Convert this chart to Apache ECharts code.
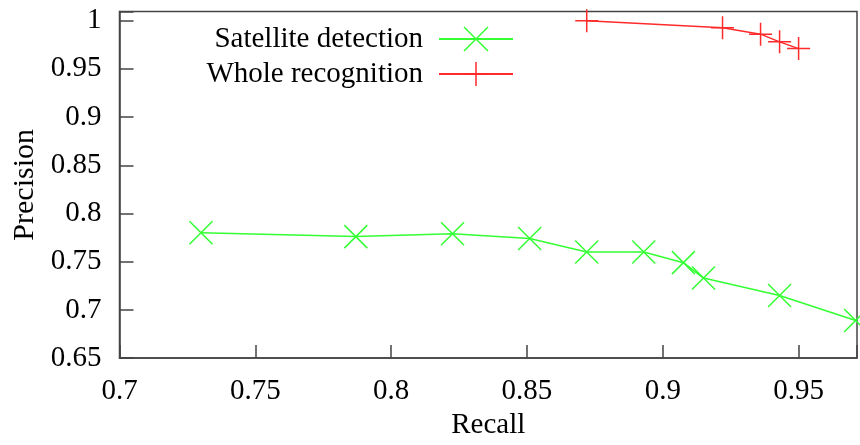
<!DOCTYPE html>
<html>
<head>
<meta charset="utf-8">
<script src="https://cdn.jsdelivr.net/npm/echarts@6/dist/echarts.min.js"></script>
<style>html,body{margin:0;padding:0;background:#fff}#c{width:860px;height:445px}</style>
</head>
<body>
<div id="c"></div>
<script>
const seriesNames = ['Satellite detection', 'Whole recognition'];
const satRecall    = [0.730, 0.787, 0.8226, 0.851, 0.872, 0.893, 0.9076, 0.915, 0.943, 0.971];
const satPrecision = [0.780, 0.776, 0.779, 0.774, 0.760, 0.760, 0.749, 0.733, 0.715, 0.689];
const wholeRecall    = [0.872, 0.922, 0.936, 0.943, 0.950];
const wholePrecision = [1.000, 0.9926, 0.986, 0.978, 0.971];
const xTicks = [0.7, 0.75, 0.8, 0.85, 0.9, 0.95];
const yTicks = [0.65, 0.7, 0.75, 0.8, 0.85, 0.9, 0.95, 1];

const FONT = 'Liberation Serif';
const GREEN = '#33ff33';
const RED = '#ff2a2a';
const AX = '#444';

function pair(xs, ys) { return xs.map((x, i) => [x, ys[i]]); }
function tickFmt(list) {
  return function (v) {
    for (const t of list) if (Math.abs(t - v) < 1e-6) return String(t);
    return '';
  };
}

const chart = echarts.init(document.getElementById('c'), null, {renderer: 'canvas'});
const legendBase = {
  orient: 'vertical', align: 'right', right: 341,
  itemWidth: 74, itemHeight: 30,
  textStyle: {fontFamily: FONT, fontSize: 29, color: '#000', lineHeight: 30, padding: [0, 11, 0, 0]},
  itemStyle: {borderWidth: 1.5},
  selectedMode: false
};
chart.setOption({
  animation: false,
  backgroundColor: '#fff',
  grid: {left: 119.5, right: 0, top: 11.5, bottom: 85.5, show: true, borderColor: AX, borderWidth: 1.5, backgroundColor: 'transparent'},
  legend: [
    Object.assign({}, legendBase, {top: 19, data: [seriesNames[0]]}),
    Object.assign({}, legendBase, {top: 54, data: [seriesNames[1]]})
  ],
  xAxis: {
    type: 'value', min: 0.7, max: 0.9715, interval: 0.05,
    name: 'Recall', nameLocation: 'middle', nameGap: 44,
    nameTextStyle: {fontFamily: FONT, fontSize: 29, color: '#000'},
    axisLine: {show: true, lineStyle: {color: AX, width: 1.5}},
    axisTick: {show: true, inside: true, length: 13, lineStyle: {color: AX, width: 1.5}},
    axisLabel: {margin: 19, fontFamily: FONT, fontSize: 29, color: '#000', formatter: tickFmt(xTicks), showMaxLabel: true},
    splitLine: {show: false}
  },
  yAxis: {
    type: 'value', min: 0.65, max: 1.0095, interval: 0.05,
    name: 'Precision', nameLocation: 'middle', nameGap: 77, nameRotate: 90,
    nameTextStyle: {fontFamily: FONT, fontSize: 30, color: '#000'},
    axisLine: {show: true, lineStyle: {color: AX, width: 1.5}},
    axisTick: {show: true, inside: true, length: 14, lineStyle: {color: AX, width: 1.5}},
    axisLabel: {margin: 18, fontFamily: FONT, fontSize: 29, color: '#000', formatter: tickFmt(yTicks)},
    splitLine: {show: false}
  },
  series: [
    {
      name: seriesNames[0], type: 'line', data: pair(satRecall, satPrecision),
      symbol: 'path://M0,0L10,10M10,0L0,10', symbolSize: 23,
      lineStyle: {color: GREEN, width: 1.5},
      itemStyle: {color: GREEN, borderColor: GREEN, borderWidth: 1.5},
      clip: false
    },
    {
      name: seriesNames[1], type: 'line', data: pair(wholeRecall, wholePrecision),
      symbol: 'path://M5,0L5,10M0,5L10,5', symbolSize: 23,
      lineStyle: {color: RED, width: 1.5},
      itemStyle: {color: RED, borderColor: RED, borderWidth: 1.5},
      clip: false
    }
  ]
});
</script>
</body>
</html>
